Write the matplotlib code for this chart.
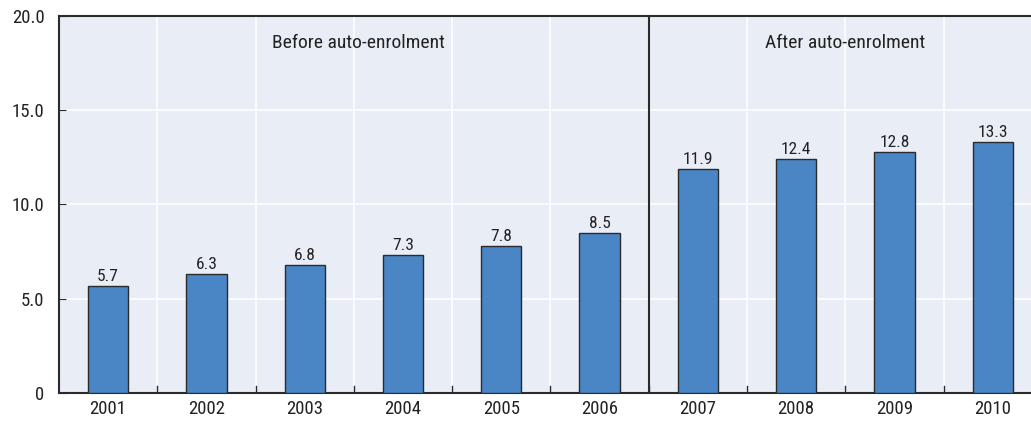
import matplotlib
matplotlib.use("Agg")
import matplotlib.pyplot as plt
from matplotlib import font_manager

years = ["2001", "2002", "2003", "2004", "2005", "2006", "2007", "2008", "2009", "2010"]
values = [5.7, 6.3, 6.8, 7.3, 7.8, 8.5, 11.9, 12.4, 12.8, 13.3]
value_labels = ["5.7", "6.3", "6.8", "7.3", "7.8", "8.5", "11.9", "12.4", "12.8", "13.3"]
y_ticks = [0, 5, 10, 15, 20]
y_tick_labels = ["0", "5.0", "10.0", "15.0", "20.0"]

# pick a narrow sans font if one is there
available = set(f.name for f in font_manager.fontManager.ttflist)
narrow = [n for n in ["Liberation Sans Narrow", "Arial Narrow", "Roboto Condensed",
                      "Archivo Narrow", "Asap Condensed", "Barlow Semi Condensed"] if n in available]
plt.rcParams['font.family'] = narrow[:1] + ['DejaVu Sans']

fig = plt.figure(figsize=(10.31, 4.26), dpi=100)
ax = fig.add_axes([0.0572, 0.0775, 0.9428, 0.885])
ax.set_facecolor("#e9edf6")

x = list(range(len(years)))
ax.bar(x, values, width=0.41, color="#4a86c5", edgecolor="#2b2b2b", linewidth=1.0, zorder=3)
for xi, v, lab in zip(x, values, value_labels):
    ax.text(xi, v + 0.1, lab, ha="center", va="bottom", fontsize=12.5, color="#222222", zorder=4)

ax.set_xlim(-0.5, 9.39)
ax.set_ylim(0, 20)
ax.set_yticks(y_ticks)
ax.set_yticklabels(y_tick_labels, fontsize=13.5, color="#222222")
ax.set_xticks(x)
ax.set_xticklabels(years, fontsize=13.5, color="#222222")
ax.tick_params(axis="x", length=0, pad=5)
ax.tick_params(axis="y", direction="in", length=5, color="#2b2b2b", pad=10.5)

# white gridlines between categories and at y ticks
for b in [i + 0.5 for i in range(len(years) - 1)]:
    ax.axvline(b, color="white", linewidth=1.2, zorder=1)
    ax.plot([b, b], [0, 0.35], color="#2b2b2b", linewidth=1.0, zorder=2)
for yt in y_ticks[1:-1]:
    ax.axhline(yt, color="white", linewidth=1.2, zorder=1)

# separator between the two periods
ax.axvline(5.5, color="#2b2b2b", linewidth=1.5, zorder=2)
ax.text(2.55, 18.55, "Before auto-enrolment", ha="center", va="center", fontsize=14, color="#222222")
ax.text(7.5, 18.55, "After auto-enrolment", ha="center", va="center", fontsize=14, color="#222222")

for side in ["left", "top", "bottom"]:
    ax.spines[side].set_color("#2b2b2b")
    ax.spines[side].set_linewidth(1.5)
ax.spines["right"].set_visible(False)

fig.savefig("out.png", dpi=100)
